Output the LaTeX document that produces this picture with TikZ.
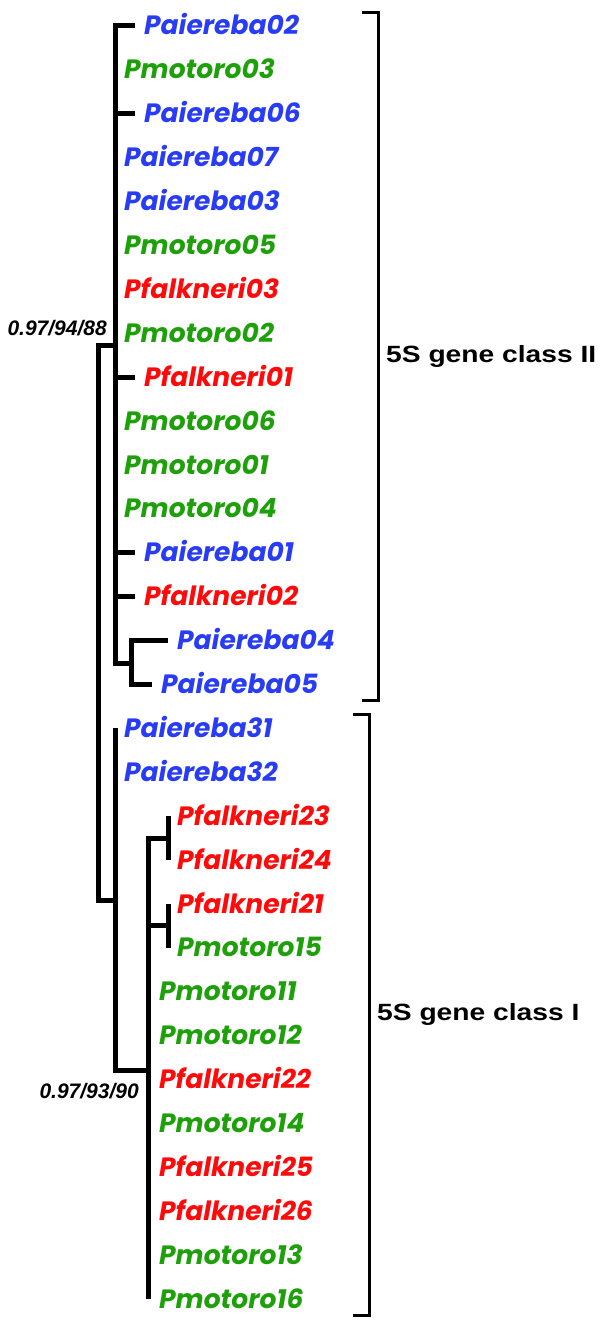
\documentclass[tikz,border=0pt]{standalone}
\usepackage{fontspec}
\setmainfont{Liberation Sans}
\newfontfamily\leaffont{Poppins}
\newfontfamily\classfont{Liberation Sans}[FakeStretch=1.2]
\definecolor{aiblue}{RGB}{40,60,245}
\definecolor{mogreen}{RGB}{30,160,10}
\definecolor{fared}{RGB}{255,10,10}

\begin{document}
\begin{tikzpicture}[x=1pt, y=-1pt,
  leaf/.style={anchor=west, inner xsep=9pt, inner ysep=0pt, text height=18pt, text depth=0pt,
    font={\leaffont\fontsize{26.5}{26.5}\bfseries\itshape}},
  ai/.style={leaf, text=aiblue},
  mo/.style={leaf, text=mogreen},
  fa/.style={leaf, text=fared},
  support/.style={inner sep=0pt, font={\fontsize{21}{21}\bfseries\itshape}},
  classlabel/.style={anchor=west, inner xsep=8pt, font={\classfont\fontsize{23.5}{23.5}\bfseries}},
  branch/.style={line width=5pt},
  bracket/.style={line width=3pt},]
\useasboundingbox (0,0) rectangle (600,1327);
% leaves, class II
\node[ai] (pa02) at (135,26) {Paiereba02};
\node[mo] (pm03) at (115,69.9) {Pmotoro03};
\node[ai] (pa06) at (135,113.8) {Paiereba06};
\node[ai] (pa07) at (115,157.7) {Paiereba07};
\node[ai] (pa03) at (115,201.6) {Paiereba03};
\node[mo] (pm05) at (115,245.5) {Pmotoro05};
\node[fa] (pf03) at (115,289.4) {Pfalkneri03};
\node[mo] (pm02) at (115,333.3) {Pmotoro02};
\node[fa] (pf01) at (135,377.2) {Pfalkneri01};
\node[mo] (pm06) at (115,421.1) {Pmotoro06};
\node[mo] (pm01) at (115,465) {Pmotoro01};
\node[mo] (pm04) at (115,508.9) {Pmotoro04};
\node[ai] (pa01) at (135,552.8) {Paiereba01};
\node[fa] (pf02) at (135,596.7) {Pfalkneri02};
\node[ai] (pa04) at (168,640.6) {Paiereba04};
\node[ai] (pa05) at (152,684.5) {Paiereba05};
% leaves, class I
\node[ai] (pa31) at (115,728.4) {Paiereba31};
\node[ai] (pa32) at (115,772.3) {Paiereba32};
\node[fa] (pf23) at (168,816.2) {Pfalkneri23};
\node[fa] (pf24) at (168,860.1) {Pfalkneri24};
\node[fa] (pf21) at (168,904) {Pfalkneri21};
\node[mo] (pm15) at (168,947.9) {Pmotoro15};
\node[mo] (pm11) at (150,991.8) {Pmotoro11};
\node[mo] (pm12) at (150,1035.7) {Pmotoro12};
\node[fa] (pf22) at (150,1079.6) {Pfalkneri22};
\node[mo] (pm14) at (150,1123.5) {Pmotoro14};
\node[fa] (pf25) at (150,1167.4) {Pfalkneri25};
\node[fa] (pf26) at (150,1211.3) {Pfalkneri26};
\node[mo] (pm13) at (150,1255.2) {Pmotoro13};
\node[mo] (pm16) at (150,1299.1) {Pmotoro16};
% internal nodes
\coordinate (c2) at (115,345);
\coordinate (c2bot) at (115,663);
\coordinate (sub45) at (131,663);
\coordinate (rootbot) at (98,900);
\coordinate (c1) at (115,900);
\coordinate (c1bot) at (115,1070);
\coordinate (c1b) at (148,1070);
\coordinate (c1bbot) at (148,1299.1);
\coordinate (p2324) at (168,838.15);
\coordinate (p2115) at (168,925.95);
% support values
\node[support, anchor=base east] (bs2) at (107,335) {0.97/94/88};
\node[support, anchor=base east] (bs1) at (139,1098) {0.97/93/90};
% class labels and brackets
\coordinate (b2top) at (378,13);
\coordinate (b2bot) at (378,700);
\coordinate (b1top) at (369,714);
\coordinate (b1bot) at (369,1315);
\node[classlabel] (cls2) at (378,356.5) {5S gene class II};
\node[classlabel] (cls1) at (369,1014.5) {5S gene class I};
% edges
\draw[branch] (pa02.west) -| (c2bot) -- (sub45);
\draw[branch] (pa06.west) -- (pa06.west -| c2);
\draw[branch] (pf01.west) -- (pf01.west -| c2);
\draw[branch] (pa01.west) -- (pa01.west -| c2);
\draw[branch] (pf02.west) -- (pf02.west -| c2);
\draw[branch] (pa04.west) -| (sub45) |- (pa05.west);
\draw[branch] (c2) -| (rootbot) -- (c1);
\draw[branch] (pa31.west) -- (c1bot) -- (c1b);
\draw[branch] (p2324) -| (c1bbot);
\draw[branch] (p2115) -- (p2115 -| c1b);
\draw[branch] (pf23.west) -- (pf24.west);
\draw[branch] (pf21.west) -- (pm15.west);
\draw[bracket] ([xshift=-16pt]b2top) -- (b2top) -- (b2bot) -- ([xshift=-16pt]b2bot);
\draw[bracket] ([xshift=-16pt]b1top) -- (b1top) -- (b1bot) -- ([xshift=-16pt]b1bot);
\end{tikzpicture}
\end{document}
